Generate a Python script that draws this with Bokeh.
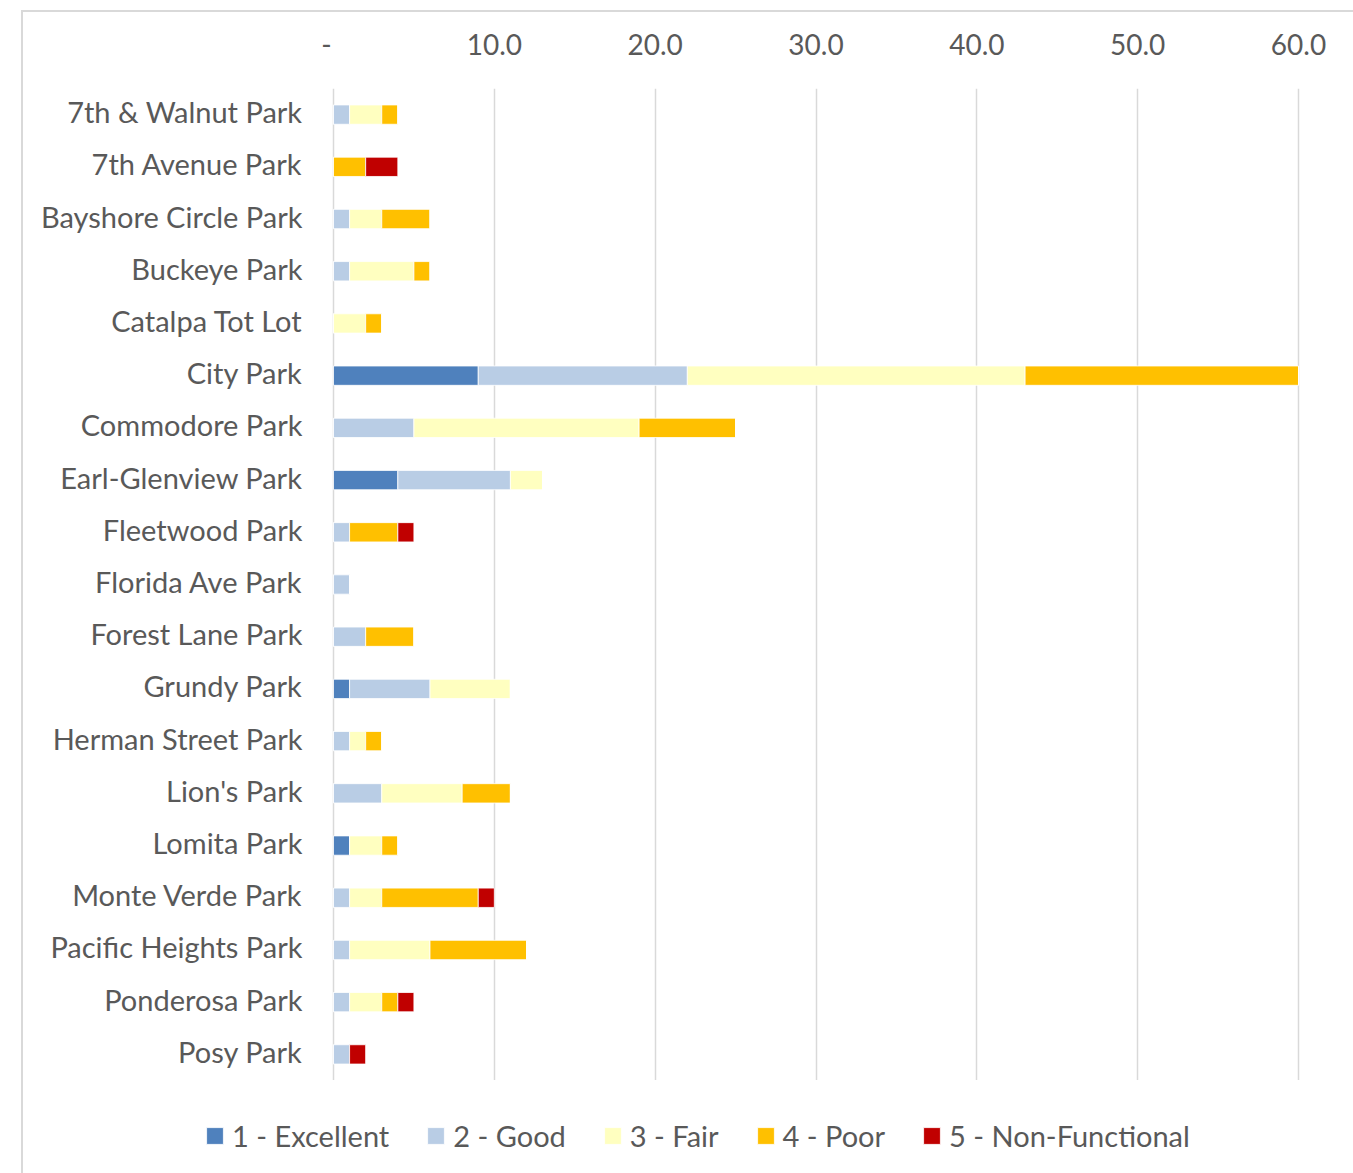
from bokeh.plotting import figure
from bokeh.layouts import column
from bokeh.models import Range1d, FixedTicker, LinearAxis, ColumnDataSource
from bokeh.embed import file_html
from bokeh.resources import INLINE

parks = ["7th & Walnut Park", "7th Avenue Park", "Bayshore Circle Park", "Buckeye Park",
         "Catalpa Tot Lot", "City Park", "Commodore Park", "Earl-Glenview Park",
         "Fleetwood Park", "Florida Ave Park", "Forest Lane Park", "Grundy Park",
         "Herman Street Park", "Lion's Park", "Lomita Park", "Monte Verde Park",
         "Pacific Heights Park", "Ponderosa Park", "Posy Park"]
excellent = [0, 0, 0, 0, 0, 9, 0, 4, 0, 0, 0, 1, 0, 0, 1, 0, 0, 0, 0]
good = [1, 0, 1, 1, 0, 13, 5, 7, 1, 1, 2, 5, 1, 3, 0, 1, 1, 1, 1]
fair = [2, 0, 2, 4, 2, 21, 14, 2, 0, 0, 0, 5, 1, 5, 2, 2, 5, 2, 0]
poor = [1, 2, 3, 1, 1, 17, 6, 0, 3, 0, 3, 0, 1, 3, 1, 6, 6, 1, 0]
nonfunc = [0, 2, 0, 0, 0, 0, 0, 0, 1, 0, 0, 0, 0, 0, 0, 1, 0, 1, 1]

series_names = ["1 - Excellent", "2 - Good", "3 - Fair", "4 - Poor", "5 - Non-Functional"]
series_keys = ["excellent", "good", "fair", "poor", "nonfunc"]
colors = ["#4F81BD", "#B9CDE5", "#FFFFC0", "#FFC000", "#C00000"]
tick_values = [0, 10, 20, 30, 40, 50, 60]
tick_labels = ["-\u00a0\u00a0", "10.0", "20.0", "30.0", "40.0", "50.0", "60.0"]

n = len(parks)
ypos = [n - 1 - i for i in range(n)]  # first park at top
source = ColumnDataSource(dict(park=parks, y=ypos, excellent=excellent, good=good, fair=fair,
                               poor=poor, nonfunc=nonfunc))

FONT = "Lato"
TXT = "#595959"
W = 1330          # inner width (after 21px margin + 2px border)
MAIN_H = 1068
LEG_H = 93
PX_PER_UNIT = (1298 - 333) / 60.0
pad_x = 2 / PX_PER_UNIT
ROW_PX = (MAIN_H - 76) / n
label_shift = 3 / ROW_PX   # nudge category labels up a few pixels
label_ticks = [y + label_shift for y in ypos]

p = figure(width=W, height=MAIN_H, output_backend="svg", toolbar_location=None,
           x_range=Range1d(-pad_x, 60 + pad_x), y_range=Range1d(-0.5, n - 0.5),
           x_axis_location=None, y_axis_location="left",
           min_border_left=308, min_border_right=53, min_border_top=76, min_border_bottom=0)
p.frame_align = False
p.outline_line_color = None
p.background_fill_color = "white"
p.border_fill_color = "white"

p.hbar_stack(series_keys, y="y", height=0.37, color=colors, source=source,
             line_color="white", line_width=0.8)

top_axis = LinearAxis(ticker=FixedTicker(ticks=tick_values))
top_axis.major_label_overrides = {v: l for v, l in zip(tick_values, tick_labels)}
top_axis.axis_line_color = None
top_axis.major_tick_line_color = None
top_axis.minor_tick_line_color = None
top_axis.major_label_text_font = FONT
top_axis.major_label_text_font_size = "28px"
top_axis.major_label_text_color = TXT
top_axis.major_label_standoff = 22
p.add_layout(top_axis, "above")

p.xgrid.ticker = FixedTicker(ticks=tick_values)
p.xgrid.grid_line_color = "#D9D9D9"
p.xgrid.grid_line_width = 1.5
p.ygrid.grid_line_color = None

ya = p.yaxis[0]
ya.ticker = FixedTicker(ticks=label_ticks)
ya.major_label_overrides = {t: name for t, name in zip(label_ticks, parks)}
ya.axis_line_color = None
ya.major_tick_line_color = None
ya.minor_tick_line_color = None
ya.major_label_text_font = FONT
ya.major_label_text_font_size = "29px"
ya.major_label_text_color = TXT
ya.major_label_standoff = 23

# legend strip below the chart (same series, view range kept away from the bars)
pl = figure(width=W, height=LEG_H, output_backend="svg", toolbar_location=None,
            x_range=Range1d(0, 1), y_range=Range1d(n + 10, n + 11),
            x_axis_location=None, y_axis_location=None,
            min_border_left=0, min_border_right=0, min_border_top=0, min_border_bottom=0)
pl.frame_align = False
pl.grid.visible = False
pl.outline_line_color = None
pl.border_fill_color = "white"
pl.background_fill_color = "white"
pl.hbar_stack(series_keys, y="y", height=0.37, color=colors, source=source,
              line_color="white", line_width=0.8, legend_label=series_names)
lg = pl.legend[0]
lg.orientation = "horizontal"
lg.location = (181, 20)
lg.padding = 0
lg.margin = 0
lg.spacing = 36
lg.label_standoff = 7
lg.glyph_width = 21
lg.glyph_height = 21
lg.label_height = 32
lg.border_line_color = None
lg.background_fill_alpha = 0
lg.label_text_font = FONT
lg.label_text_font_size = "29px"
lg.label_text_color = TXT

layout = column(p, pl, spacing=0, margin=(10, 0, 0, 21),
                styles={"border-left": "2px solid #D9D9D9", "border-top": "2px solid #D9D9D9"})

open("out.html", "w").write(file_html(layout, INLINE))
